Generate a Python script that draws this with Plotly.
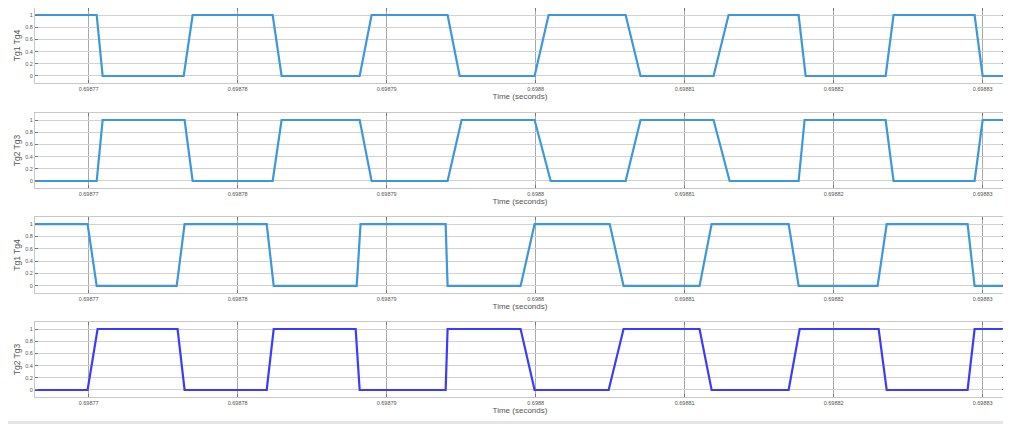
import plotly.graph_objects as go

# ---------------- data ----------------
T_START = 0.6987664
T_END = 0.6988315

# transition edges (start, end) in seconds for each panel
edges_p1 = [(0.69877054, 0.69877094), (0.69877638, 0.69877698), (0.69878235, 0.69878295),
            (0.69878819, 0.69878899), (0.69879409, 0.69879490), (0.69879993, 0.69880087),
            (0.69880604, 0.69880704), (0.69881194, 0.69881295), (0.69881765, 0.69881812),
            (0.69882349, 0.69882402), (0.69882946, 0.69883000)]
edges_p2 = [(0.69877054, 0.69877094), (0.69877644, 0.69877698), (0.69878235, 0.69878295),
            (0.69878819, 0.69878899), (0.69879409, 0.69879503), (0.69879993, 0.69880101),
            (0.69880604, 0.69880704), (0.69881194, 0.69881302), (0.69881765, 0.69881805),
            (0.69882349, 0.69882402), (0.69882946, 0.69883000)]
edges_p3 = [(0.69876993, 0.69877054), (0.69877591, 0.69877644), (0.69878195, 0.69878242),
            (0.69878799, 0.69878825), (0.69879396, 0.69879409), (0.69879899, 0.69879993),
            (0.69880497, 0.69880590), (0.69881100, 0.69881181), (0.69881698, 0.69881765),
            (0.69882295, 0.69882356), (0.69882899, 0.69882946)]
edges_p4 = [(0.69876993, 0.69877060), (0.69877597, 0.69877644), (0.69878195, 0.69878242),
            (0.69878792, 0.69878819), (0.69879396, 0.69879409), (0.69879899, 0.69879993),
            (0.69880490, 0.69880590), (0.69881100, 0.69881181), (0.69881698, 0.69881772),
            (0.69882302, 0.69882356), (0.69882899, 0.69882946)]
start_levels = [1, 0, 1, 0]
y_titles = ["Tg1 Tg4", "Tg2 Tg3", "Tg1 Tg4", "Tg2 Tg3"]
line_colors = ["#3c97dc", "#3c97dc", "#3c97dc", "#3b3bff"]

x_tick_vals = [0.69877, 0.69878, 0.69879, 0.6988, 0.69881, 0.69882, 0.69883]
x_tick_text = ["0.69877", "0.69878", "0.69879", "0.6988", "0.69881", "0.69882", "0.69883"]
y_tick_vals = [0, 0.2, 0.4, 0.6, 0.8, 1]
y_tick_text = ["0", "0.2", "0.4", "0.6", "0.8", "1"]
x_title = "Time (seconds)"


def build(edges, level):
    xs, ys = [T_START], [level]
    for a, b in edges:
        xs += [a, b]
        ys += [level, 1 - level]
        level = 1 - level
    xs.append(T_END)
    ys.append(level)
    return xs, ys


all_edges = [edges_p1, edges_p2, edges_p3, edges_p4]

# ---------------- layout (pixel based; page has an 8px body margin) ----------------
OFF = 8
W, H = 1011 - OFF, 424 - OFF
px_left, px_right = 35 - OFF, 1005 - OFF
panels_px = [(8 - OFF, 83 - OFF), (113 - OFF, 188 - OFF),
             (217 - OFF, 293 - OFF), (322 - OFF, 397 - OFF)]

fig = go.Figure()
FONT = "Liberation Sans, Arial, sans-serif"

for i in range(4):
    xs, ys = build(all_edges[i], start_levels[i])
    ax = "" if i == 0 else str(i + 1)
    fig.add_trace(go.Scatter(x=xs, y=ys, mode="lines",
                             line=dict(color=line_colors[i], width=2.2),
                             xaxis="x" + ax, yaxis="y" + ax, showlegend=False,
                             hoverinfo="skip", cliponaxis=True))
    top, bot = panels_px[i]
    fig.layout["xaxis" + ax] = dict(
        domain=[px_left / W, px_right / W], anchor="y" + ax,
        range=[T_START, T_END], tickvals=x_tick_vals, ticktext=x_tick_text,
        showgrid=True, gridcolor="#a8a8a8", gridwidth=1,
        showline=True, linecolor="#c8c8c8", linewidth=1, mirror="allticks",
        ticks="inside", ticklen=3, tickcolor="#777",
        tickfont=dict(size=5.5, color="#555", family=FONT),
        title=dict(text=x_title, font=dict(size=8, color="#555", family=FONT), standoff=1),
        automargin=False, zeroline=False, fixedrange=True,
    )
    fig.layout["yaxis" + ax] = dict(
        domain=[1 - bot / H, 1 - top / H], anchor="x" + ax,
        range=[-0.115, 1.115], tickvals=y_tick_vals, ticktext=y_tick_text,
        showgrid=True, gridcolor="#d2d2d2", gridwidth=1,
        showline=True, linecolor="#c8c8c8", linewidth=1, mirror="allticks",
        ticks="inside", ticklen=3, tickcolor="#777",
        tickfont=dict(size=5.5, color="#555", family=FONT),
        title=dict(text=y_titles[i], font=dict(size=8.5, color="#555", family=FONT), standoff=3),
        automargin=False, zeroline=False, fixedrange=True,
    )

fig.add_shape(type="rect", xref="paper", yref="paper", x0=0, x1=1,
              y0=0, y1=3 / H, fillcolor="#e6e6e6", line=dict(width=0), layer="below")

fig.update_layout(
    width=W, height=H, margin=dict(l=0, r=0, t=0, b=0),
    paper_bgcolor="white", plot_bgcolor="white",
    font=dict(family=FONT),
)

fig.write_html("out.html")
